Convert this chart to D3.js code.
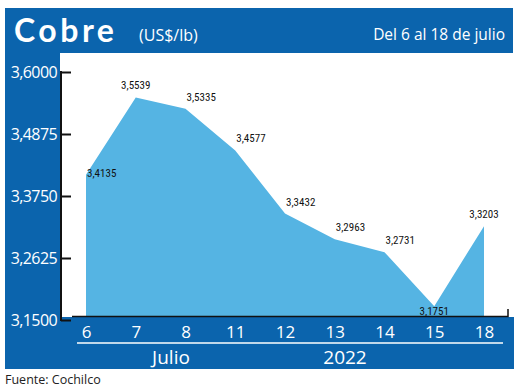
<!DOCTYPE html>
<html><head><meta charset="utf-8">
<script src="https://cdn.jsdelivr.net/npm/d3@7"></script>
<style>
html,body{margin:0;padding:0;background:#fff;}
svg{display:block;}
</style></head>
<body>
<svg id="chart" width="520" height="391"></svg>
<script>
const categories = ["6","7","8","11","12","13","14","15","18"];
const values = [3.4135, 3.5539, 3.5335, 3.4577, 3.3432, 3.2963, 3.2731, 3.1751, 3.3203];
const yTicks = [3.15, 3.2625, 3.375, 3.4875, 3.6];
const monthLabel = "Julio";
const yearLabel = "2022";
const title = "Cobre";
const unit = "(US$/lb)";
const period = "Del 6 al 18 de julio";
const source = "Fuente: Cochilco";

const dark = "#0b64ad", light = "#55b4e3";
const svg = d3.select("#chart");
const fmt = v => d3.format(".4f")(v).replace(".", ",");

// background blocks
svg.append("rect").attr("x",5).attr("y",8).attr("width",508).attr("height",45).attr("fill",dark);
svg.append("rect").attr("x",5).attr("y",52).attr("width",55).attr("height",317).attr("fill",dark);
svg.append("rect").attr("x",5).attr("y",317).attr("width",509).attr("height",52).attr("fill",dark);

// header text
svg.append("text").attr("x",14).attr("y",42).attr("fill","#fff")
  .attr("font-family","Lato, 'Open Sans', sans-serif").attr("font-weight","bold")
  .attr("font-size",32).attr("letter-spacing",3.5).text(title);
svg.append("text").attr("x",139).attr("y",41).attr("fill","#fff")
  .attr("font-family","'Open Sans', sans-serif").attr("font-size",16).text(unit);
svg.append("text").attr("x",505).attr("y",40).attr("fill","#fff").attr("text-anchor","end")
  .attr("font-family","'Open Sans', sans-serif").attr("font-size",15.5).text(period);

const x = d3.scalePoint().domain(categories).range([86, 484]);
const y = d3.scaleLinear().domain([3.15, 3.6]).range([320, 72]);
const baseY = 316;

// area
const area = d3.area().x((d,i)=>x(categories[i])).y0(baseY).y1(d=>y(d));
svg.append("path").datum(values).attr("d", area).attr("fill", light);

// x baseline
svg.append("path").attr("d", `M72,${baseY+0.5}H508V309`).attr("fill","none").attr("stroke","#111").attr("stroke-width",1.5);

// y axis
const yAxis = d3.axisLeft(y).tickValues(yTicks).tickFormat(fmt).tickSizeInner(-10).tickSizeOuter(0).tickPadding(4);
const gy = svg.append("g").attr("transform","translate(61,0)").call(yAxis);
gy.select(".domain").remove();
gy.selectAll(".tick line").attr("stroke","#111").attr("stroke-width",2);
gy.selectAll(".tick text").attr("fill","#fff").attr("font-size",16)
  .attr("font-family","'Open Sans', sans-serif").attr("letter-spacing",-0.6);
svg.append("line").attr("x1",61).attr("x2",61).attr("y1",y(3.6)-1).attr("y2",y(3.15)+1)
  .attr("stroke","#111").attr("stroke-width",2);

// x axis labels
const xAxis = d3.axisBottom(x).tickSize(0).tickPadding(0);
const gx = svg.append("g").attr("transform","translate(0,322)").call(xAxis);
gx.select(".domain").remove();
gx.selectAll(".tick text").attr("fill","#fff").attr("font-size",17)
  .attr("font-family","'Open Sans', sans-serif").attr("dy","0.95em");

svg.append("line").attr("x1",77).attr("x2",503).attr("y1",343).attr("y2",343).attr("stroke","#fff").attr("stroke-width",1.5);
svg.append("text").attr("x",171).attr("y",364).attr("text-anchor","middle").attr("fill","#fff")
  .attr("font-family","'Open Sans', sans-serif").attr("font-size",19).text(monthLabel);
svg.append("text").attr("x",345).attr("y",364).attr("text-anchor","middle").attr("fill","#fff")
  .attr("font-family","'Open Sans', sans-serif").attr("font-size",19).text(yearLabel);

// value labels
const last = values.length-1;
const minI = values.indexOf(d3.min(values));
svg.append("g").selectAll("text").data(values).join("text")
  .attr("x",(d,i)=> i===0 ? x(categories[i])+1 : (i===last||i===1||i===minI) ? x(categories[i]) : x(categories[i])+1)
  .attr("y",(d,i)=> i===0 ? y(d)+2 : i===minI ? y(d)+9 : y(d)-8)
  .attr("text-anchor",(d,i)=> (i===last||i===1||i===minI) ? "middle" : "start")
  .attr("font-family","'Liberation Sans Narrow', 'Roboto Condensed', Roboto, sans-serif")
  .attr("font-size",11).attr("fill","#111")
  .text(d=>fmt(d));

svg.append("text").attr("x",5).attr("y",384).attr("fill","#222")
  .attr("font-family","'Open Sans', sans-serif").attr("font-size",12.5).text(source);
</script>
</body></html>
